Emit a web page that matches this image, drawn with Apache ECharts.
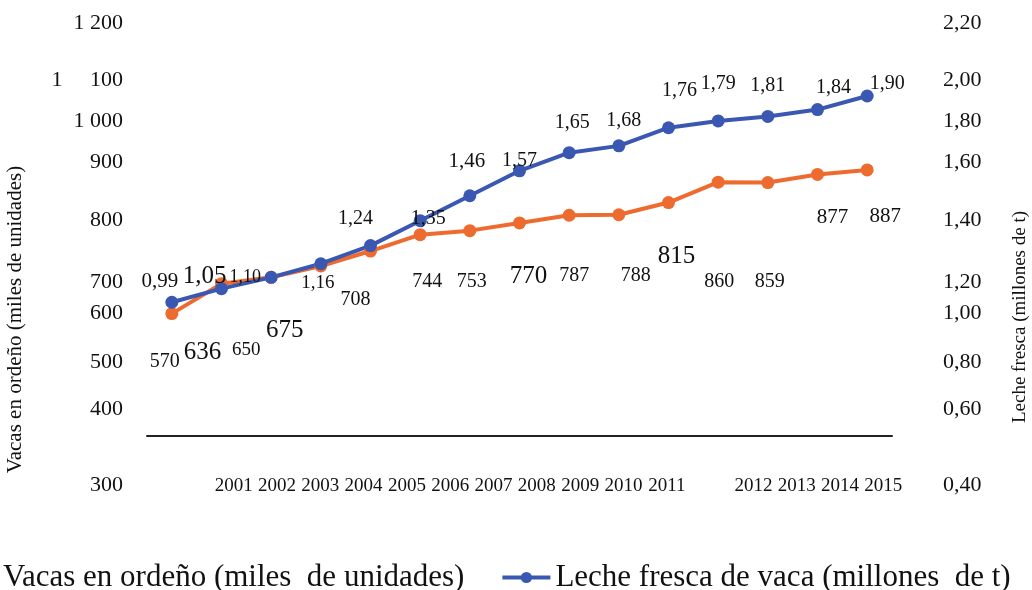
<!DOCTYPE html>
<html><head><meta charset="utf-8">
<script src="https://cdn.jsdelivr.net/npm/echarts@6/dist/echarts.min.js"></script>
<style>html,body{margin:0;padding:0;background:#fff}#c{width:1032px;height:590px}</style>
</head><body><div id="c"></div>
<script>
// ---------- data ----------
const years = ['2001','2002','2003','2004','2005','2006','2007','2008','2009','2010','2011','2012','2013','2014','2015'];
const vacas = [570,636,650,675,708,744,753,770,787,788,815,860,859,877,887];
const leche = [0.99,1.05,1.10,1.16,1.24,1.35,1.46,1.57,1.65,1.68,1.76,1.79,1.81,1.84,1.90];
const leftTickLabels = ['300','400','500','600','700','800','900','1 000','1     100','1 200'];
const rightTickLabels = ['0,40','0,60','0,80','1,00','1,20','1,40','1,60','1,80','2,00','2,20'];
const yearTickLabels = ['2001','2002','2003','2004','2005','2006','2007','2008','2009','2010','2011','','2012','2013','2014','2015'];
const vacasName = 'Vacas en ordeño (miles de unidades)';
const lecheName = 'Leche fresca de vaca (millones de t)';
const vacasAxisName = 'Vacas en ordeño (miles de unidades)';
const lecheAxisName = 'Leche fresca (millones de t)';

// ---------- layout / style ----------
const FONT = 'Liberation Serif';
const ORANGE = '#EE6B2F';
const BLUE = '#3A58B2';
const tickShift = [49,19,17,13,28,11,-2,3,7,-5];
const vacasLabelOffset = [[-7,48],[-19,69],[-25,73],[-36,64],[-15,49],[7,47],[2,51],[9,54],[5,61],[17,61],[8,54],[1,100],[2,99],[15,43],[18,47]];
const lecheLabelOffset = [[-12,-21],[-17,-12],[-26,0],[-3,19],[-15,-27],[8,-2],[-3,-34],[0,-10],[3,-30],[5,-25],[11,-37],[0,-37],[0,-31],[16,-22],[20,-12]];
const vacasLabelSize = [20,25,19,25,20,20,20,25,20,20,25,20,20,21,21];
const lecheLabelSize = [21,25,18,19,20,20,21,20,20,20,20,20,20,20,20];

function shiftRich(size) {
  const r = {};
  tickShift.forEach((d, i) => {
    r['t' + i] = {
      fontSize: size, fontFamily: FONT, color: '#111',
      lineHeight: size + 2 * Math.abs(d),
      verticalAlign: d >= 0 ? 'bottom' : 'top'
    };
  });
  return r;
}

const chart = echarts.init(document.getElementById('c'), null, {renderer: 'canvas'});
chart.setOption({
  backgroundColor: '#fff',
  animation: false,
  textStyle: {fontFamily: FONT},
  grid: [
    {left: 147, right: 140, top: 28, bottom: 154, outerBoundsMode: 'none', containLabel: false},
    {left: 212, right: 127, top: 28, bottom: 154, outerBoundsMode: 'none', containLabel: false}
  ],
  xAxis: [
    {type: 'category', gridIndex: 0, data: years, boundaryGap: true,
     axisLine: {show: true, lineStyle: {color: '#222', width: 2}},
     axisTick: {show: false}, axisLabel: {show: false}, splitLine: {show: false}},
    {type: 'category', gridIndex: 1, data: yearTickLabels, boundaryGap: true,
     axisLine: {show: false}, axisTick: {show: false}, splitLine: {show: false},
     axisLabel: {show: true, interval: 0, margin: 41, fontSize: 19, fontFamily: FONT, color: '#111'}}
  ],
  yAxis: [
    {type: 'value', gridIndex: 0, position: 'left', min: 300, max: 1200, interval: 100,
     axisLine: {show: false}, axisTick: {show: false}, splitLine: {show: false},
     name: vacasAxisName, nameLocation: 'middle', nameRotate: 90, nameGap: 121,
     nameTextStyle: {fontSize: 21, fontFamily: FONT, color: '#111', padding: [0, 175, 0, 0]},
     axisLabel: {margin: 24, formatter: v => {const i = Math.round((v - 300) / 100); return '{t' + i + '|' + leftTickLabels[i] + '}';}, rich: shiftRich(22)}},
    {type: 'value', gridIndex: 0, position: 'right', min: 0.4, max: 2.2, interval: 0.2,
     axisLine: {show: false}, axisTick: {show: false}, splitLine: {show: false},
     name: lecheAxisName, nameLocation: 'middle', nameRotate: 90, nameGap: 119,
     nameTextStyle: {fontSize: 19, fontFamily: FONT, color: '#111', padding: [0, 170, 0, 0]},
     axisLabel: {margin: 51, formatter: v => {const i = Math.round((v - 0.4) / 0.2); return '{t' + i + '|' + rightTickLabels[i] + '}';}, rich: shiftRich(22)}},
    {type: 'value', gridIndex: 1, show: false}
  ],
  legend: {
    left: -57, top: 557, itemWidth: 48, itemHeight: 14, itemGap: 36,
    lineStyle: {width: 4},
    textStyle: {fontSize: 31, fontFamily: FONT, color: '#111'},
    formatter: name => name.replace('(miles de', '(miles  de').replace('(millones de', '(millones  de'),
    data: [vacasName, lecheName]
  },
  series: [
    {name: vacasName, type: 'line', xAxisIndex: 0, yAxisIndex: 0,
     symbol: 'circle', symbolSize: 13,
     lineStyle: {color: ORANGE, width: 4}, itemStyle: {color: ORANGE},
     label: {show: true, position: 'inside', align: 'center', verticalAlign: 'middle', color: '#111', fontFamily: FONT, textBorderWidth: 0},
     data: vacas.map((v, i) => ({value: v, label: {offset: vacasLabelOffset[i], fontSize: vacasLabelSize[i]}}))},
    {name: lecheName, type: 'line', xAxisIndex: 0, yAxisIndex: 1,
     symbol: 'circle', symbolSize: 13,
     lineStyle: {color: BLUE, width: 4}, itemStyle: {color: BLUE},
     label: {show: true, position: 'inside', align: 'center', verticalAlign: 'middle', color: '#111', fontFamily: FONT, textBorderWidth: 0,
             formatter: p => p.value.toFixed(2).replace('.', ',')},
     data: leche.map((v, i) => ({value: v, label: {offset: lecheLabelOffset[i], fontSize: lecheLabelSize[i]}}))}
  ]
});
</script></body></html>
